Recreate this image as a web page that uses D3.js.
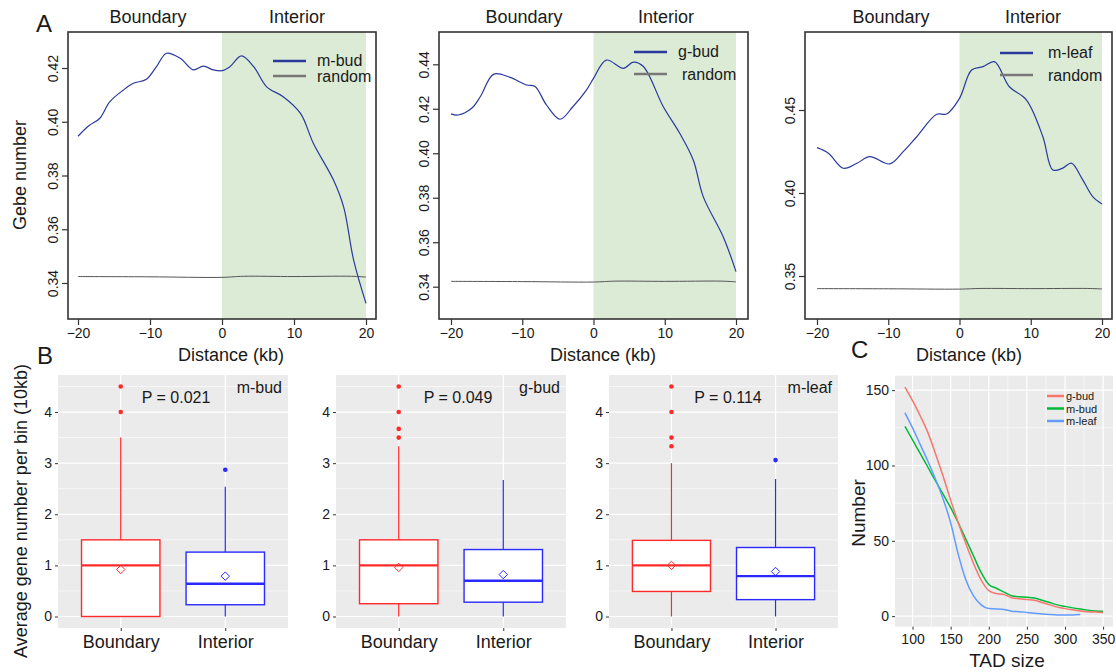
<!DOCTYPE html>
<html>
<head>
<meta charset="utf-8">
<script src="https://cdn.jsdelivr.net/npm/d3@7/dist/d3.min.js"></script>
<style>
  body { margin: 0; background: #fff; }
  text { font-family: "Liberation Sans", Arial, sans-serif; fill: #1a1a1a; }
</style>
</head>
<body>
<div id="fig"></div>
<script>
// ---------- data ----------
// A: gene number profile around TAD boundaries (distance in kb)
var mBudKb   = [-20,-18.5,-17,-15.6,-13.7,-12.3,-10.5,-9.1,-7.7,-5.8,-4,-2.6,-1.2,0,1.1,2.7,4.4,6.2,8.5,10.9,12.7,15.5,16.9,18.3,20];
var mBudGene = [0.3946,0.3985,0.4012,0.4074,0.4118,0.4143,0.4158,0.4205,0.4255,0.4236,0.4193,0.4207,0.4193,0.419,0.4205,0.4245,0.4205,0.413,0.4093,0.4031,0.3919,0.3782,0.3682,0.3483,0.3324];
var gBudKb   = [-20,-19,-17.1,-15.9,-14,-11.7,-9.4,-8.2,-6.6,-4.7,-2.9,-1,0,1.8,4.2,5.6,7,9.8,12.1,14,15.4,18.2,20];
var gBudGene = [0.4177,0.4172,0.4202,0.4254,0.4356,0.4341,0.4307,0.430,0.4217,0.4153,0.4209,0.4284,0.4337,0.4419,0.4382,0.441,0.439,0.4209,0.409,0.397,0.3805,0.3625,0.3468];
var mLeafKb   = [-20,-18.4,-16.3,-14.4,-12.6,-9.8,-7.9,-6,-3.2,-1.8,0,1.7,3.3,4.9,7,9.4,11.7,13.1,14.5,15.7,17.3,18.7,20];
var mLeafGene = [0.4273,0.424,0.4149,0.4179,0.4219,0.4175,0.4249,0.4339,0.4474,0.4476,0.457,0.4741,0.4761,0.4791,0.464,0.456,0.4339,0.4139,0.415,0.418,0.4079,0.3978,0.3934];
var randomKb   = [-20,-10,0,3,10,18,20];
var randomGene = [0.3424,0.3423,0.3421,0.3425,0.3424,0.3425,0.3422];
var profileTicks = [-20,-10,0,10,20];

// B: average gene number per bin (10kb)
var boxCats = ["Boundary","Interior"];
var boxMBud = [
  {lo:0, q1:0,    med:1,    q3:1.5,  hi:3.5,  mean:0.92, out:[4,4.5]},
  {lo:0, q1:0.23, med:0.64, q3:1.26, hi:2.54, mean:0.79, out:[2.87]}
];
var boxGBud = [
  {lo:0, q1:0.25, med:1,    q3:1.5,  hi:3.33, mean:0.96, out:[3.5,3.67,4,4.5]},
  {lo:0, q1:0.28, med:0.70, q3:1.31, hi:2.67, mean:0.82, out:[]}
];
var boxMLeaf = [
  {lo:0, q1:0.49, med:1,    q3:1.49, hi:3.0,  mean:1.0,  out:[3.33,3.5,4,4.5]},
  {lo:0, q1:0.33, med:0.79, q3:1.35, hi:2.69, mean:0.88, out:[3.06]}
];
var boxPValues = ["P = 0.021","P = 0.049","P = 0.114"];

// C: TAD size distribution
var tadSize  = [90,100,110,120,130,140,150,160,170,180,190,200,210,220,230,240,250,260,270,280,290,300,310,320,330,340,350];
var tadGBud  = [152,143,133,122,108,93,77,62,48,35,24,17,15,14.3,12.2,11.5,11,10.5,9,7.5,6,5,4.2,3.5,3,2.7,2.5];
var tadMBud  = [126,117,108,99,90,81,72,62,51,40,29,21,18.5,16,13.5,12.8,12.6,12,10.5,9,7.5,6.5,5.5,4.7,4,3.5,3.2];
var tadSizeLeaf = [90,100,110,120,130,140,150,160,170,180,190,200,210,220,230,240,250,260,270,280,290,300,310,320];
var tadMLeaf = [135,125,114,103,91,78,62,41,24,13.5,7.5,5,4.8,4.4,3.3,3,2.5,2,1.5,1.1,0.8,0.7,0.8,1.1];
var tadNames  = ["g-bud","m-bud","m-leaf"];
var tadColors = ["#F8766D","#00BA38","#619CFF"];

// ---------- drawing ----------
var svg = d3.select("#fig").append("svg").attr("width", 1116).attr("height", 672);
var font = '"Liberation Sans", Arial, sans-serif';

// panel letters
svg.append("text").attr("x", 36).attr("y", 32).attr("font-size", 24).text("A");
svg.append("text").attr("x", 37).attr("y", 364).attr("font-size", 24).text("B");
svg.append("text").attr("x", 851).attr("y", 358).attr("font-size", 24).text("C");

function drawProfile(p) {
  var g = svg.append("g");
  var x = d3.scaleLinear().domain([-20, 20]).range(p.xr);
  var y = d3.scaleLinear().domain(p.yd).range(p.yr);

  // interior shading
  g.append("rect")
    .attr("x", x(0)).attr("y", p.box[1])
    .attr("width", x(20) - x(0)).attr("height", p.box[3] - p.box[1])
    .attr("fill", "#dcebd6");

  var line = d3.line().curve(d3.curveCatmullRom.alpha(0.5))
    .x(function(d) { return x(d[0]); }).y(function(d) { return y(d[1]); });

  g.append("path").datum(d3.zip(randomKb, randomGene))
    .attr("d", line).attr("fill", "none").attr("stroke", "#555").attr("stroke-width", 1);
  g.append("path").datum(d3.zip(p.kb, p.gene))
    .attr("d", line).attr("fill", "none").attr("stroke", "#2a3a9c").attr("stroke-width", 1.2);

  // box
  g.append("rect")
    .attr("x", p.box[0]).attr("y", p.box[1])
    .attr("width", p.box[2] - p.box[0]).attr("height", p.box[3] - p.box[1])
    .attr("fill", "none").attr("stroke", "#333").attr("stroke-width", 1.6);

  // axes
  var xa = g.append("g").attr("transform", "translate(0," + p.box[3] + ")")
    .call(d3.axisBottom(x).tickValues(profileTicks).tickSize(6).tickPadding(3).tickFormat(d3.format("d")));
  xa.select(".domain").remove();
  xa.selectAll("line").attr("stroke", "#333").attr("stroke-width", 1.2);
  xa.selectAll("text").attr("font-size", 14).attr("font-family", font).attr("fill", "#1a1a1a");

  var ya = g.append("g").attr("transform", "translate(" + p.box[0] + ",0)")
    .call(d3.axisLeft(y).tickValues(p.yTicks).tickSize(6).tickFormat(d3.format(".2f")));
  ya.select(".domain").remove();
  ya.selectAll("line").attr("stroke", "#333").attr("stroke-width", 1.2);
  ya.selectAll("text").attr("font-size", 14).attr("font-family", font).attr("fill", "#1a1a1a")
    .attr("x", 0).attr("dy", 0).attr("text-anchor", "middle")
    .attr("transform", "translate(-10,0) rotate(-90)");

  // headers
  g.append("text").attr("x", p.hdr[0]).attr("y", 23).attr("font-size", 18).attr("text-anchor", "middle").text("Boundary");
  g.append("text").attr("x", p.hdr[1]).attr("y", 23).attr("font-size", 18).attr("text-anchor", "middle").text("Interior");
  g.append("text").attr("x", p.xlab).attr("y", 361).attr("font-size", 18).attr("text-anchor", "middle").text("Distance (kb)");

  // legend
  var lg = p.legend;
  g.append("line").attr("x1", lg.x).attr("x2", lg.x + 33).attr("y1", lg.y1).attr("y2", lg.y1)
    .attr("stroke", "#2a3a9c").attr("stroke-width", 2.5);
  g.append("line").attr("x1", lg.x).attr("x2", lg.x + 33).attr("y1", lg.y2).attr("y2", lg.y2)
    .attr("stroke", "#777").attr("stroke-width", 2.5);
  g.append("text").attr("x", lg.tx).attr("y", lg.y1 + 5).attr("font-size", 16).text(p.name);
  g.append("text").attr("x", lg.tx2).attr("y", lg.y2 + 6).attr("font-size", 16).text("random");
}

drawProfile({name: "m-bud", kb: mBudKb, gene: mBudGene, box: [68, 32, 376, 319],
  xr: [78, 366], yd: [0.34, 0.42], yr: [283, 68], yTicks: [0.34, 0.36, 0.38, 0.40, 0.42],
  hdr: [148, 297], xlab: 231, legend: {x: 273, tx: 317, tx2: 317, y1: 61, y2: 76}});
drawProfile({name: "g-bud", kb: gBudKb, gene: gBudGene, box: [439, 32, 748, 319],
  xr: [451, 736], yd: [0.34, 0.44], yr: [286.7, 64.3], yTicks: [0.34, 0.36, 0.38, 0.40, 0.42, 0.44],
  hdr: [524, 666], xlab: 603, legend: {x: 634, tx: 678, tx2: 682, y1: 52, y2: 74}});
drawProfile({name: "m-leaf", kb: mLeafKb, gene: mLeafGene, box: [805, 32, 1112, 319],
  xr: [817, 1102], yd: [0.35, 0.45], yr: [276, 110], yTicks: [0.35, 0.40, 0.45],
  hdr: [891, 1033], xlab: 969, legend: {x: 1000, tx: 1048, tx2: 1048, y1: 53, y2: 75}});

svg.append("text").attr("transform", "translate(26,175) rotate(-90)")
  .attr("font-size", 18).attr("text-anchor", "middle").text("Gebe number");

// ---------- B: boxplots ----------
function drawBoxes(b) {
  var g = svg.append("g");
  var y0 = 375, y1 = 628;
  var x = d3.scalePoint().domain(boxCats).range([b.x0, b.x1]).padding(0.6);
  var y = d3.scaleLinear().domain([-0.225, 4.725]).range([y1, y0]);
  var bw = x.step() * 0.75;
  var cols = ["#ff2a2a", "#2a2aff"];

  g.append("rect").attr("x", b.x0).attr("y", y0).attr("width", b.x1 - b.x0).attr("height", y1 - y0).attr("fill", "#ebebeb");
  g.selectAll(".minor").data([0.5, 1.5, 2.5, 3.5, 4.5]).enter().append("line")
    .attr("x1", b.x0).attr("x2", b.x1).attr("y1", y).attr("y2", y).attr("stroke", "#fff").attr("stroke-width", 0.6);
  g.selectAll(".major").data([0, 1, 2, 3, 4]).enter().append("line")
    .attr("x1", b.x0).attr("x2", b.x1).attr("y1", y).attr("y2", y).attr("stroke", "#fff").attr("stroke-width", 1.2);
  g.selectAll(".vmaj").data(boxCats).enter().append("line")
    .attr("x1", x).attr("x2", x).attr("y1", y0).attr("y2", y1).attr("stroke", "#fff").attr("stroke-width", 1.2);

  b.stats.forEach(function(s, i) {
    var cx = x(boxCats[i]), c = cols[i];
    g.append("line").attr("x1", cx).attr("x2", cx).attr("y1", y(s.q3)).attr("y2", y(s.hi)).attr("stroke", c).attr("stroke-width", 1.2);
    g.append("line").attr("x1", cx).attr("x2", cx).attr("y1", y(s.lo)).attr("y2", y(s.q1)).attr("stroke", c).attr("stroke-width", 1.2);
    g.append("rect").attr("x", cx - bw / 2).attr("y", y(s.q3)).attr("width", bw).attr("height", y(s.q1) - y(s.q3))
      .attr("fill", "#fff").attr("stroke", c).attr("stroke-width", 1.4);
    g.append("line").attr("x1", cx - bw / 2).attr("x2", cx + bw / 2).attr("y1", y(s.med)).attr("y2", y(s.med))
      .attr("stroke", c).attr("stroke-width", 2.4);
    g.selectAll(null).data(s.out).enter().append("circle")
      .attr("cx", cx).attr("cy", y).attr("r", 2.3).attr("fill", c);
    g.append("path").attr("d", d3.symbol(d3.symbolDiamond2, 45)())
      .attr("transform", "translate(" + cx + "," + y(s.mean) + ")")
      .attr("fill", "none").attr("stroke", c).attr("stroke-width", 1);
  });

  var ya = g.append("g").attr("transform", "translate(" + b.x0 + ",0)")
    .call(d3.axisLeft(y).tickValues([0, 1, 2, 3, 4]).tickSize(3).tickPadding(3).tickFormat(d3.format("d")));
  ya.select(".domain").remove();
  ya.selectAll("line").attr("stroke", "#333");
  ya.selectAll("text").attr("font-size", 14).attr("font-family", font).attr("fill", "#222");

  var xa = g.append("g").attr("transform", "translate(0," + y1 + ")")
    .call(d3.axisBottom(x).tickSize(3).tickPadding(4));
  xa.select(".domain").remove();
  xa.selectAll("line").attr("stroke", "#333");
  xa.selectAll("text").attr("font-size", 18).attr("font-family", font).attr("fill", "#1a1a1a");

  g.append("text").attr("x", b.px).attr("y", 403).attr("font-size", 16).attr("text-anchor", "middle").text(b.p);
  g.append("text").attr("x", b.x1 - 6).attr("y", 393).attr("font-size", 16).attr("text-anchor", "end").text(b.name);
}

drawBoxes({x0: 58, x1: 288, stats: boxMBud, p: boxPValues[0], px: 176, name: "m-bud"});
drawBoxes({x0: 336, x1: 566, stats: boxGBud, p: boxPValues[1], px: 458, name: "g-bud"});
drawBoxes({x0: 609, x1: 838, stats: boxMLeaf, p: boxPValues[2], px: 728, name: "m-leaf"});

svg.append("text").attr("transform", "translate(27,511) rotate(-90)")
  .attr("font-size", 18).attr("text-anchor", "middle").text("Average gene number per bin (10kb)");

// ---------- C: TAD size ----------
(function() {
  var g = svg.append("g");
  var x0 = 895, x1 = 1113, y0 = 375.7, y1 = 626.7;
  var x = d3.scaleLinear().domain([77, 363]).range([x0, x1]);
  var y = d3.scaleLinear().domain([-7, 159.6]).range([y1, y0]);

  g.append("rect").attr("x", x0).attr("y", y0).attr("width", x1 - x0).attr("height", y1 - y0).attr("fill", "#ebebeb");
  g.selectAll(".hmin").data([25, 75, 125]).enter().append("line")
    .attr("x1", x0).attr("x2", x1).attr("y1", y).attr("y2", y).attr("stroke", "#fff").attr("stroke-width", 0.6);
  g.selectAll(".vmin").data([125, 175, 225, 275, 325]).enter().append("line")
    .attr("x1", x).attr("x2", x).attr("y1", y0).attr("y2", y1).attr("stroke", "#fff").attr("stroke-width", 0.6);
  g.selectAll(".hmaj").data([0, 50, 100, 150]).enter().append("line")
    .attr("x1", x0).attr("x2", x1).attr("y1", y).attr("y2", y).attr("stroke", "#fff").attr("stroke-width", 1.2);
  g.selectAll(".vmaj").data([100, 150, 200, 250, 300, 350]).enter().append("line")
    .attr("x1", x).attr("x2", x).attr("y1", y0).attr("y2", y1).attr("stroke", "#fff").attr("stroke-width", 1.2);

  var line = d3.line().curve(d3.curveMonotoneX)
    .x(function(d) { return x(d[0]); }).y(function(d) { return y(d[1]); });
  var series = [d3.zip(tadSize, tadGBud), d3.zip(tadSize, tadMBud), d3.zip(tadSizeLeaf, tadMLeaf)];
  // draw m-bud first, then g-bud, then m-leaf
  [1, 0, 2].forEach(function(i) {
    g.append("path").datum(series[i]).attr("d", line)
      .attr("fill", "none").attr("stroke", tadColors[i]).attr("stroke-width", 1.5);
  });

  var ya = g.append("g").attr("transform", "translate(" + x0 + ",0)")
    .call(d3.axisLeft(y).tickValues([0, 50, 100, 150]).tickSize(3).tickPadding(3));
  ya.select(".domain").remove();
  ya.selectAll("line").attr("stroke", "#333");
  ya.selectAll("text").attr("font-size", 14).attr("font-family", font).attr("fill", "#222");

  var xa = g.append("g").attr("transform", "translate(0," + y1 + ")")
    .call(d3.axisBottom(x).tickValues([100, 150, 200, 250, 300, 350]).tickSize(3).tickPadding(4));
  xa.select(".domain").remove();
  xa.selectAll("line").attr("stroke", "#333");
  xa.selectAll("text").attr("font-size", 14).attr("font-family", font).attr("fill", "#222");

  var ly = [396, 408.5, 421];
  tadNames.forEach(function(n, i) {
    g.append("line").attr("x1", 1047).attr("x2", 1064).attr("y1", ly[i]).attr("y2", ly[i])
      .attr("stroke", tadColors[i]).attr("stroke-width", 2.5);
    g.append("text").attr("x", 1066).attr("y", ly[i] + 4).attr("font-size", 11).text(n);
  });

  svg.append("text").attr("x", 1007).attr("y", 667).attr("font-size", 19).attr("text-anchor", "middle").text("TAD size");
  svg.append("text").attr("transform", "translate(865,513) rotate(-90)")
    .attr("font-size", 19).attr("text-anchor", "middle").text("Number");
})();
</script>
</body>
</html>
